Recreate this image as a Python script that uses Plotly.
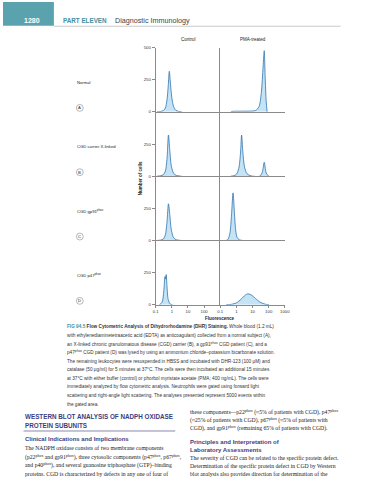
import plotly.graph_objects as go

W, H = 374, 480
def px(x): return x / W
def py(y): return 1 - y / H

# ---------------- data ----------------
col_titles = ["Control", "PMA-treated"]
row_letters = ["A", "B", "C", "D"]
row_labels = ["Normal", "CGD carrier X-linked", "CGD gp91<sup>phox</sup>", "CGD p47<sup>phox</sup>"]

a_ctrl_x = [0.12, 0.2, 0.3, 0.4, 0.5, 0.6, 0.7, 0.8, 1.0, 1.3, 1.8, 2.6, 4.2]
a_ctrl_y = [0, 3, 10, 30, 90, 200, 315, 240, 110, 40, 12, 4, 0]
a_pma_x = [0.45, 0.6, 2, 8, 15, 25, 35, 45, 53, 60, 70, 80]
a_pma_y = [0, 4, 5, 6, 10, 40, 150, 350, 475, 280, 80, 0]

b_ctrl_x = [0.12, 0.2, 0.3, 0.4, 0.5, 0.62, 0.75, 0.9, 1.2, 1.6, 2.4, 4.0]
b_ctrl_y = [0, 3, 12, 40, 130, 320, 200, 90, 30, 10, 3, 0]
b_pma_x = [0.45, 0.7, 1.0, 1.4, 1.8, 2.1, 2.5, 3.2, 4.5, 7, 10, 28, 40, 53, 70, 100]
b_pma_y = [0, 4, 15, 60, 180, 320, 190, 70, 20, 5, 0, 0, 30, 108, 25, 0]

c_ctrl_x = [0.12, 0.2, 0.3, 0.4, 0.5, 0.62, 0.75, 0.9, 1.2, 1.6, 2.4, 4.0]
c_ctrl_y = [0, 3, 12, 45, 140, 285, 200, 95, 30, 10, 3, 0]
c_pma_x = [0.23, 0.3, 0.4, 0.5, 0.62, 0.75, 0.9, 1.1, 1.5, 2.5]
c_pma_y = [0, 8, 60, 200, 370, 220, 80, 25, 6, 0]

d_ctrl_x = [0.17, 0.25, 0.32, 0.38, 0.42, 0.45, 0.5, 0.6, 0.8, 1.1]
d_ctrl_y = [0, 20, 110, 220, 200, 235, 150, 40, 6, 0]
d_pma_x = [0.23, 0.5, 1, 2, 3.5, 5, 8, 15, 30, 60, 107]
d_pma_y = [0, 4, 15, 45, 75, 85, 78, 50, 20, 5, 0]

curves = [
    (a_ctrl_x, a_ctrl_y), (a_pma_x, a_pma_y),
    (b_ctrl_x, b_ctrl_y), (b_pma_x, b_pma_y),
    (c_ctrl_x, c_ctrl_y), (c_pma_x, c_pma_y),
    (d_ctrl_x, d_ctrl_y), (d_pma_x, d_pma_y),
]

x_tickvals_left = [0.1, 1, 10, 100]
x_ticktext_left = ["0.1", "1", "10", "100"]
x_tickvals_right = [0.1, 1, 10, 100, 1000]
x_ticktext_right = ["0.1", "1", "10", "100", "1000"]

caption_lines = [
    "<b><span style='color:#3f8fa0'>FIG 94.5</span> Flow Cytometric Analysis of Dihydrorhodamine (DHR) Staining.</b> Whole blood (1.2 mL)",
    "with ethylenediaminetetraacetic acid (EDTA) as anticoagulant) collected from a normal subject (A),",
    "an X-linked chronic granulomatous disease (CGD) carrier (B), a gp91<sup>phox</sup> CGD patient (C), and a",
    "p47<sup>phox</sup> CGD patient (D) was lysed by using an ammonium chloride–potassium bicarbonate solution.",
    "The remaining leukocytes were resuspended in HBSS and incubated with DHR-123 (100 μM) and",
    "catalase (50 μg/ml) for 5 minutes at 37°C. The cells were then incubated an additional 15 minutes",
    "at 37°C with either buffer (control) or phorbol myristate acetate (PMA; 400 ng/mL). The cells were",
    "immediately analyzed by flow cytometric analysis. Neutrophils were gated using forward light",
    "scattering and right-angle light scattering. The analyses presented represent 5000 events within",
    "the gated area.",
]

left_body = [
    "The NADPH oxidase consists of two membrane components",
    "(p22<sup>phox</sup> and gp91<sup>phox</sup>), three cytosolic components (p47<sup>phox</sup>, p67<sup>phox</sup>,",
    "and p40<sup>phox</sup>), and several guanosine triphosphate (GTP)–binding",
    "proteins. CGD is characterized by defects in any one of four of",
]
right_top = [
    "these components—p22<sup>phox</sup> (≈5% of patients with CGD), p47<sup>phox</sup>",
    "(≈25% of patients with CGD), p67<sup>phox</sup> (≈5% of patients with",
    "CGD), and gp91<sup>phox</sup> (remaining 65% of patients with CGD).",
]
right_body = [
    "The severity of CGD can be related to the specific protein defect.",
    "Determination of the specific protein defect in CGD by Western",
    "blot analysis also provides direction for determination of the",
]

# ---------------- figure ----------------
fig = go.Figure()
AX_COL = "#8a8a8a"
LINE_COL = "#2f74b0"
FILL_COL = "rgba(190,225,245,0.9)"

x_left = (156, 222)
x_right = (222, 288)
for r in range(4):
    top = 46 + 65 * r
    bot = 111 + 65 * r
    for c in range(2):
        i = r * 2 + c + 1
        xs, ys = curves[i - 1]
        fig.add_trace(go.Scatter(
            x=xs, y=ys, mode="lines", line=dict(color=LINE_COL, width=0.8, shape="spline", smoothing=0.8),
            fill="tozeroy", fillcolor=FILL_COL, xaxis=f"x{i}", yaxis=f"y{i}", showlegend=False,
            hoverinfo="skip"))
        xd = x_left if c == 0 else x_right
        last = r == 3
        xa = dict(type="log", range=[-1, 3], domain=[px(xd[0]), px(xd[1])], anchor=f"y{i}",
                  showgrid=False, zeroline=False, showline=True, linecolor=AX_COL, linewidth=1,
                  showticklabels=last, ticks="outside" if last else "", ticklen=2, tickcolor=AX_COL,
                  tickfont=dict(size=4.3, color="#333", family="Liberation Sans"))
        if last:
            xa["tickvals"] = x_tickvals_left if c == 0 else x_tickvals_right
            xa["ticktext"] = x_ticktext_left if c == 0 else x_ticktext_right
        else:
            xa["tickvals"] = []
        ya = dict(range=[0, 500], domain=[py(bot), py(top)], anchor=f"x{i}",
                  showgrid=False, zeroline=False, showline=True, linecolor=AX_COL, linewidth=1,
                  tickfont=dict(size=4.3, color="#333", family="Liberation Sans"))
        if c == 0:
            ya.update(tickvals=[0, 250, 500] if r == 0 else [0, 250],
                      ticktext=["0", "250", "500"] if r == 0 else ["0", "250"],
                      ticks="outside", ticklen=3, tickcolor=AX_COL, showticklabels=True)
        else:
            ya.update(tickvals=[], showticklabels=False)
        key = "" if i == 1 else str(i)
        fig.layout["xaxis" + key] = xa
        fig.layout["yaxis" + key] = ya

ann = []
def add(text, x, y, size, color="#222", xanchor="left", family="Liberation Sans", **kw):
    ann.append(dict(text=text, x=px(x), y=py(y), xref="paper", yref="paper", xanchor=xanchor,
                    yanchor="middle", showarrow=False, borderpad=0,
                    font=dict(size=size, color=color, family=family), **kw))

shapes = []

# column titles
add(col_titles[0], 190, 38, 4.5, xanchor="center")
add(col_titles[1], 255, 38, 4.5, xanchor="center")
# row labels and letters
for r in range(4):
    add(row_labels[r], 75, 81 + 65 * r, 4.2)
    cy = 107 + 65 * r
    add(row_letters[r], 78.5, cy, 4.2, xanchor="center")
    shapes.append(dict(type="circle", xref="paper", yref="paper",
                       x0=px(75), x1=px(82), y0=py(cy + 3.5), y1=py(cy - 3.5),
                       line=dict(color="#888", width=0.6)))
# axis titles
add("<b>Number of cells</b>", 140, 178, 4.5, xanchor="center", textangle=-90)
add("<b>Fluorescence</b>", 222, 320, 4.5, xanchor="center")

# header
add("<b>1280</b>", 30, 19, 7, color="white", xanchor="center")
add("<b>PART ELEVEN</b>", 60, 19, 6.3, color="#3f8fa0")
add("Diagnostic Immunology", 113, 19, 7.2, color="#444")

# caption
for k, line in enumerate(caption_lines):
    add(line, 64, 328 + 8.7 * k, 4.7, color="#333")

# bottom text
HEAD_COL = "#3b3e7e"
HF = "Liberation Sans"
add("<b>WESTERN BLOT ANALYSIS OF NADPH OXIDASE</b>", 21, 419, 6.3, color=HEAD_COL, family=HF)
add("<b>PROTEIN SUBUNITS</b>", 21, 428, 6.3, color=HEAD_COL, family=HF)
add("<b>Clinical Indications and Implications</b>", 21, 442, 6.0, color=HEAD_COL, family=HF)
for k, line in enumerate(left_body):
    add(line, 21, 451 + 8.5 * k, 5.7, color="#222", family="Liberation Serif")
for k, line in enumerate(right_top):
    add(line, 190, 414 + 8.2 * k, 5.7, color="#222", family="Liberation Serif")
add("<b>Principles and Interpretation of</b>", 190, 445, 6.0, color=HEAD_COL, family=HF)
add("<b>Laboratory Assessments</b>", 190, 453, 6.0, color=HEAD_COL, family=HF)
for k, line in enumerate(right_body):
    add(line, 190, 461 + 8.2 * k, 5.7, color="#222", family="Liberation Serif")

shapes += [
    dict(type="rect", xref="paper", yref="paper", x0=0, x1=px(52), y0=py(24), y1=1,
         fillcolor="#5aa2ae", line=dict(width=0), layer="below"),
    dict(type="line", xref="paper", yref="paper", x0=px(52), x1=px(345), y0=py(24.5), y1=py(24.5),
         line=dict(color="#bbbbbb", width=0.8)),
    dict(type="line", xref="paper", yref="paper", x0=px(21), x1=px(176), y0=py(433.5), y1=py(433.5),
         line=dict(color="#6a6a95", width=0.8)),
]

fig.update_layout(width=W, height=H, margin=dict(l=0, r=0, t=0, b=0),
                  paper_bgcolor="white", plot_bgcolor="rgba(0,0,0,0)",
                  annotations=ann, shapes=shapes)

fig.write_html("out.html", config={"displayModeBar": False},
               post_script="document.body.style.margin='0';document.body.style.overflow='hidden';")
